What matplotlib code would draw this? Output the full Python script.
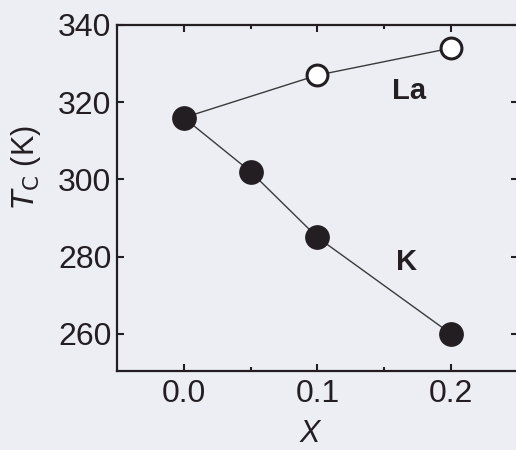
import matplotlib
matplotlib.use("Agg")
import matplotlib.pyplot as plt

x_la = [0.0, 0.1, 0.2]
tc_la = [316, 327, 334]
x_k = [0.0, 0.05, 0.1, 0.2]
tc_k = [316, 302, 285, 260]
xticks = [0.0, 0.1, 0.2]
yticks = [260, 280, 300, 320, 340]

plt.rcParams['font.family'] = ['Liberation Sans', 'DejaVu Sans']
bg = '#eceef4'
fig = plt.figure(figsize=(5.16, 4.5), dpi=100, facecolor=bg)
ax = fig.add_axes([0.2267, 0.1756, 0.777, 0.7689])
ax.set_facecolor(bg)

ink = '#231e22'
ax.plot(x_la, tc_la, '-', color='#3a3a3a', lw=1.0, zorder=2)
ax.plot(x_k, tc_k, '-', color='#3a3a3a', lw=1.0, zorder=2)
ax.plot(x_la[1:], tc_la[1:], 'o', ms=15, mfc='white', mec=ink, mew=2.2, zorder=3)
ax.plot(x_k, tc_k, 'o', ms=16.8, mfc=ink, mec=ink, zorder=3)

ax.set_xlim(-0.05, 0.25)
ax.set_ylim(250.4, 340)
ax.set_xticks(xticks)
ax.set_xticklabels(['0.0', '0.1', '0.2'])
ax.set_xticks([0.05, 0.15], minor=True)
ax.set_yticks(yticks)
ax.tick_params(axis='both', which='major', direction='in', length=5, width=1.5,
               labelsize=23, top=True, right=True, colors=ink)
ax.tick_params(axis='x', which='major', pad=6)
ax.tick_params(axis='y', which='major', pad=4)
ax.tick_params(axis='both', which='minor', direction='in', length=3, width=1.5,
               top=True, right=True, colors=ink)
for s in ax.spines.values():
    s.set_linewidth(1.6)
    s.set_color(ink)

ax.set_xlabel('X', fontsize=22, fontstyle='italic', color=ink)
ax.xaxis.set_label_coords((309 - 117) / 400.0, -0.14)
ax.set_ylabel('$\\mathit{T}_{\\mathrm{C}}$ (K)', fontsize=22, color=ink)
ax.yaxis.set_label_coords(-0.185, 0.59)

ax.text(0.1685, 322.9, 'La', fontsize=21, fontweight='bold', color=ink,
        ha='center', va='center')
ax.text(0.167, 278.5, 'K', fontsize=21, fontweight='bold', color=ink,
        ha='center', va='center')

fig.savefig('out.png', dpi=100, facecolor=bg)
